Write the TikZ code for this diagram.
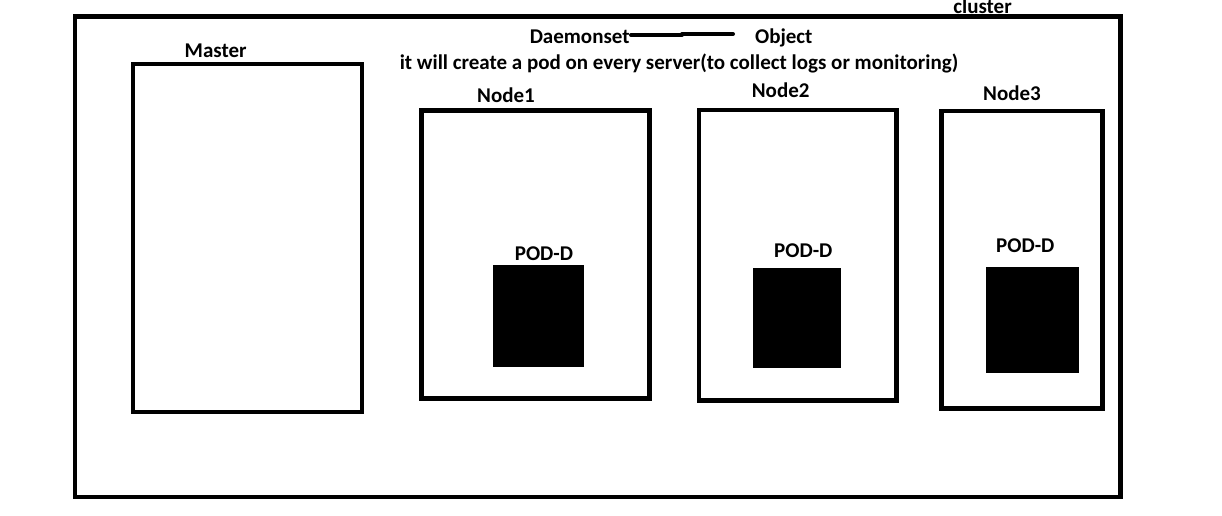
\documentclass[tikz,border=0pt]{standalone}
\usepackage{fontspec}
\setmainfont{Carlito}
\begin{document}
\begin{tikzpicture}[x=1pt,y=-1pt,
  lbl/.style={anchor=base,inner sep=0pt,font=\fontsize{21}{25}\selectfont\bfseries},
  frame/.style={draw=black,line width=4.6pt,fill=white,inner sep=0pt,rectangle},
  podbox/.style={fill=black,draw=none,inner sep=0pt,rectangle},
  link/.style={line width=4pt,line cap=round}]
\useasboundingbox (0,0) rectangle (1222,515);
% cluster frame
\node[frame,minimum width=1045.5pt,minimum height=480.5pt] (cluster) at (597.75,256.75) {};
\node[lbl] (clusterlbl) at (982.5,13.5) {cluster};
% master
\node[frame,minimum width=229pt,minimum height=347.8pt] (master) at (247.5,237.9) {};
\node[lbl] (masterlbl) at (215.7,57) {Master};
% nodes
\node[frame,minimum width=228pt,minimum height=288.4pt] (node1) at (535.5,254.5) {};
\node[lbl] (node1lbl) at (506,102.5) {Node1};
\node[frame,minimum width=197.3pt,minimum height=290.3pt] (node2) at (797.7,255.2) {};
\node[lbl] (node2lbl) at (780.7,97) {Node2};
\node[frame,minimum width=160.6pt,minimum height=297.3pt] (node3) at (1022,259.7) {};
\node[lbl] (node3lbl) at (1012,100.5) {Node3};
% pods
\node[podbox,minimum width=91.3pt,minimum height=102.6pt] (pod1) at (538.3,316) {};
\node[lbl] (pod1lbl) at (544,260.5) {POD-D};
\node[podbox,minimum width=88pt,minimum height=99.7pt] (pod2) at (797,317.8) {};
\node[lbl] (pod2lbl) at (803.3,257) {POD-D};
\node[podbox,minimum width=93pt,minimum height=106pt] (pod3) at (1032.5,320) {};
\node[lbl] (pod3lbl) at (1025.3,252.5) {POD-D};
% header texts
\node[lbl] (ds) at (579.7,43.5) {Daemonset};
\node[lbl] (obj) at (783.8,43.5) {Object};
\node[lbl] (desc) at (679,69) {it will create a pod on every server(to collect logs or monitoring)};
% connector
\coordinate (la) at (631,35);
\coordinate (lb) at (682,35);
\coordinate (lc) at (682,34);
\coordinate (ld) at (733,34);
\draw[link] (la) -- (lb);
\draw[link] (lc) -- (ld);
\end{tikzpicture}
\end{document}
